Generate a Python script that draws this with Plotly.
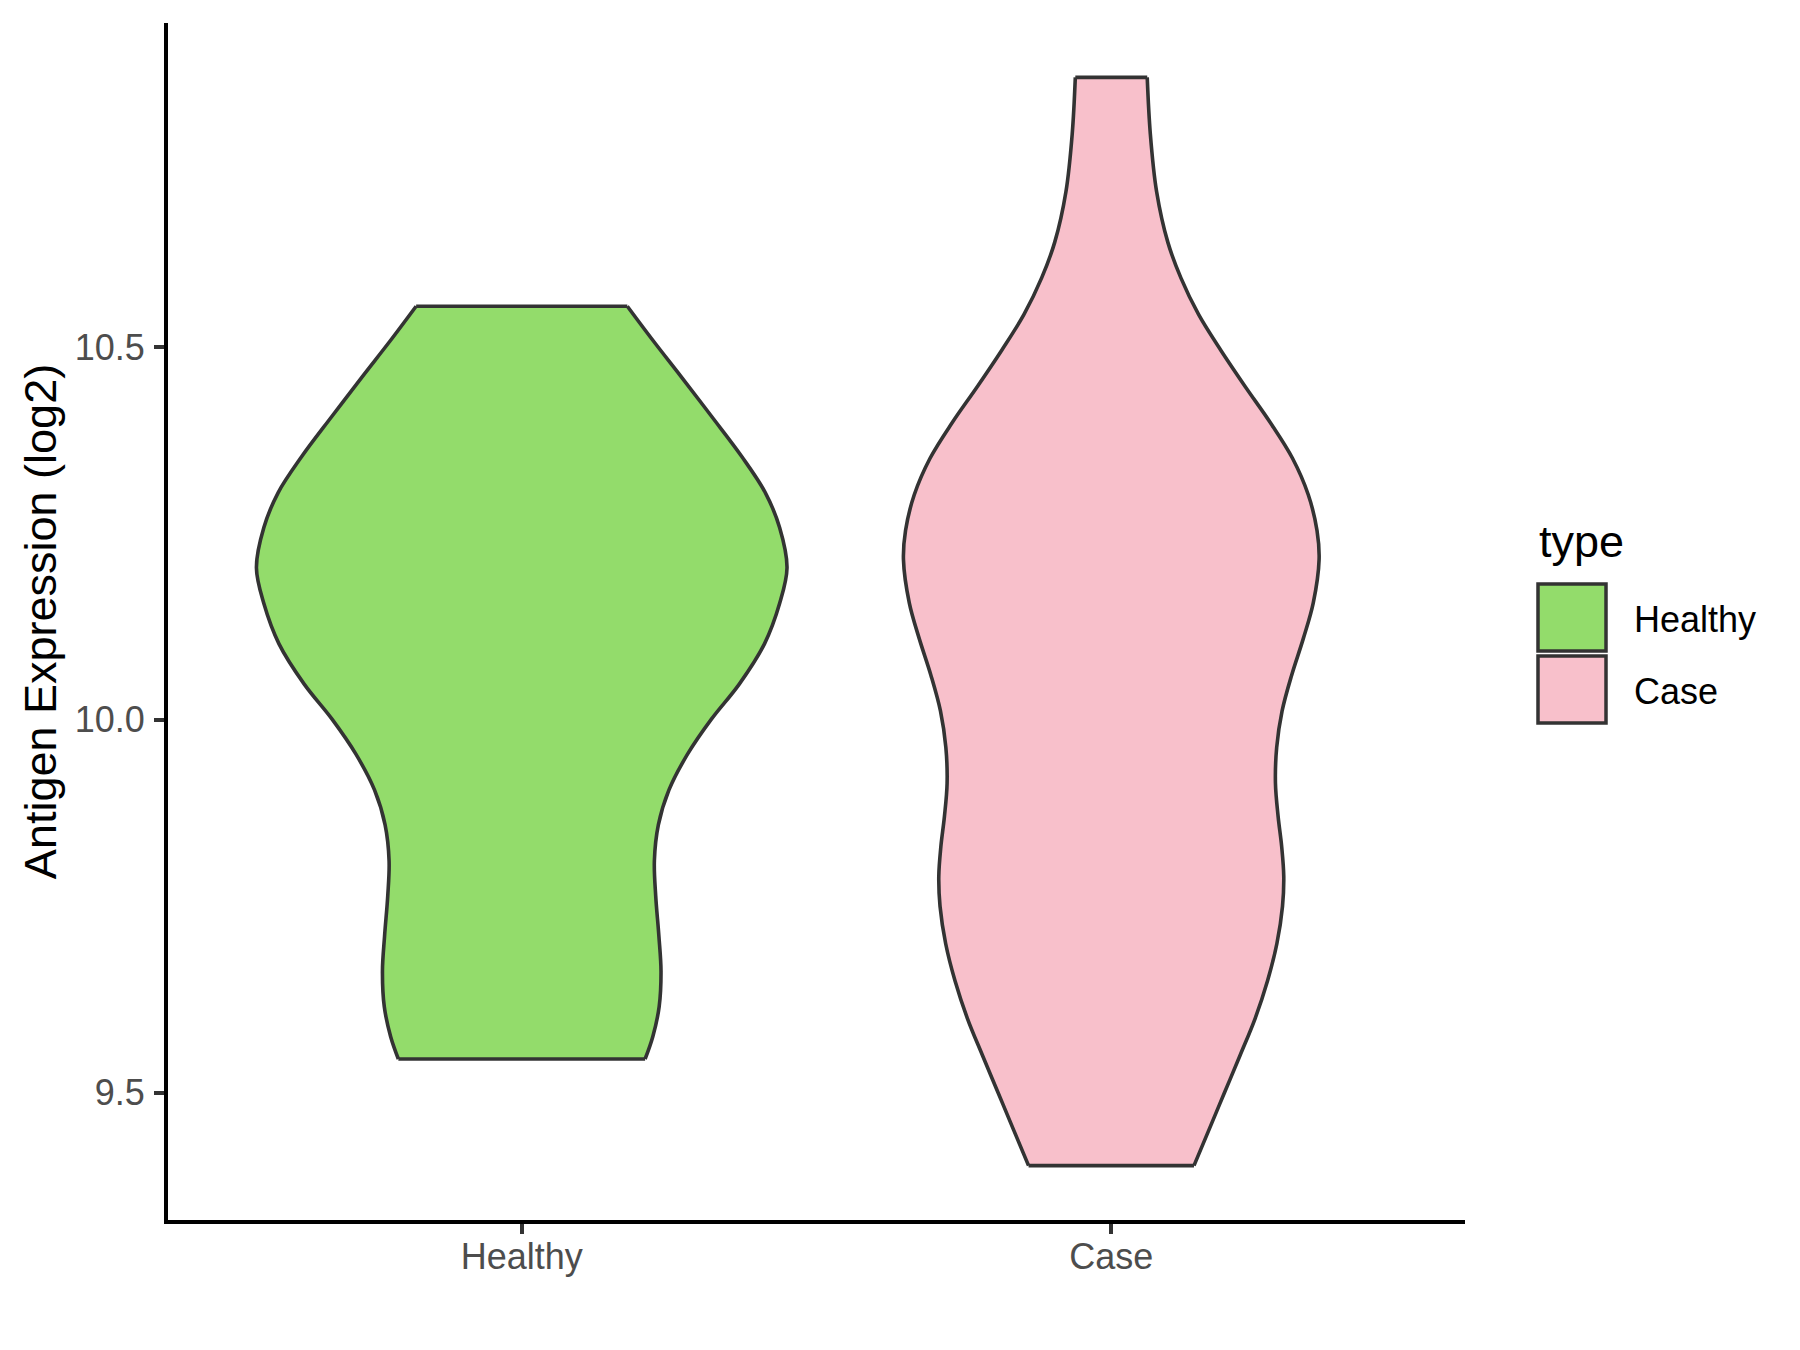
import plotly.graph_objects as go

categories = ["Healthy", "Case"]
fill_colors = ["#93DC6B", "#F8C0CB"]

# violin outlines: expression (log2) and relative width (1 = widest point)
healthy_expr = [9.545, 9.575, 9.615, 9.663, 9.710, 9.764, 9.811, 9.859, 9.906, 9.954, 10.001,
                10.048, 10.102, 10.156, 10.204, 10.258, 10.305, 10.353, 10.407, 10.461, 10.508, 10.555]
healthy_width = [0.465, 0.494, 0.518, 0.525, 0.517, 0.505, 0.500, 0.515, 0.555, 0.625, 0.715,
                 0.820, 0.915, 0.972, 1.000, 0.972, 0.918, 0.830, 0.716, 0.600, 0.497, 0.398]

case_expr = [9.402, 9.450, 9.500, 9.550, 9.600, 9.650, 9.700, 9.750, 9.790, 9.830, 9.870, 9.915,
             9.963, 10.012, 10.060, 10.109, 10.157, 10.215, 10.254, 10.302, 10.351, 10.399, 10.447,
             10.496, 10.544, 10.593, 10.641, 10.709, 10.786, 10.862]
case_width = [0.398, 0.470, 0.545, 0.620, 0.693, 0.752, 0.797, 0.824, 0.830, 0.820, 0.803, 0.790,
              0.796, 0.822, 0.868, 0.924, 0.972, 1.000, 0.990, 0.948, 0.872, 0.765, 0.645,
              0.527, 0.420, 0.335, 0.272, 0.218, 0.188, 0.173]

y_ticks = [9.5, 10.0, 10.5]

FONT = "Liberation Sans, Arial, sans-serif"
OUTLINE = "#333333"
MAX_HALF = [0.45, 0.3525]  # half width at the widest point (ggplot scale="area")
W, H = 1800, 1350
ML, MR, MT, MB = 160, 343, 15, 138


def px_x(px):
    return (px - ML) / (W - ML - MR)


def px_y(py):
    return (H - MB - py) / (H - MT - MB)


fig = go.Figure()

groups = [(healthy_expr, healthy_width), (case_expr, case_width)]
for i, (ys, ws) in enumerate(groups):
    center = i + 1
    left = [center - w * MAX_HALF[i] for w in ws]
    right = [center + w * MAX_HALF[i] for w in ws]
    line = dict(color=OUTLINE, width=3.6, shape="spline", simplify=False)
    fig.add_trace(go.Scatter(x=left, y=ys, mode="lines", line=line,
                             showlegend=False, hoverinfo="skip"))
    fig.add_trace(go.Scatter(x=right, y=ys, mode="lines", line=line,
                             fill="tonextx", fillcolor=fill_colors[i],
                             name=categories[i], showlegend=False,
                             hovertemplate=f"{categories[i]}<br>%{{y:.2f}}<extra></extra>"))
    # flat top and bottom of the trimmed violin
    fig.add_trace(go.Scatter(
        x=[left[0], right[0], None, left[-1], right[-1]],
        y=[ys[0], ys[0], None, ys[-1], ys[-1]],
        mode="lines", line=dict(color=OUTLINE, width=3.6),
        showlegend=False, hoverinfo="skip",
    ))

all_y = healthy_expr + case_expr
pad = 0.05 * (max(all_y) - min(all_y))
y_range = [min(all_y) - pad, max(all_y) + pad]

axis_common = dict(
    showline=True, linecolor="black", linewidth=4,
    ticks="outside", ticklen=10, tickwidth=4, tickcolor=OUTLINE,
    tickfont=dict(size=36, color="#4D4D4D", family=FONT),
    showgrid=False, zeroline=False,
)
fig.update_xaxes(range=[0.4, 2.6], tickvals=[1, 2], ticktext=categories,
                 ticklabelstandoff=-8, **axis_common)
fig.update_yaxes(range=y_range, tickvals=y_ticks, tickformat=".1f", ticklabelstandoff=2,
                 title=dict(text="Antigen Expression (log2)", font=dict(size=45, color="black", family=FONT),
                            standoff=5),
                 **axis_common)

# legend drawn like ggplot's: big outlined keys
shapes = []
annotations = [dict(text="type", x=px_x(1529), y=px_y(533), xref="paper", yref="paper",
                    xanchor="left", yanchor="middle", showarrow=False,
                    font=dict(size=45, color="black", family=FONT))]
key_top = [576, 648]
label_y = [611.6, 683.0]
for i, cat in enumerate(categories):
    shapes.append(dict(type="rect", xref="paper", yref="paper",
                       x0=px_x(1530), x1=px_x(1598), y0=px_y(key_top[i]), y1=px_y(key_top[i] + 67),
                       fillcolor=fill_colors[i], line=dict(color=OUTLINE, width=3.5)))
    annotations.append(dict(text=cat, x=px_x(1624), y=px_y(label_y[i]), xref="paper", yref="paper",
                            xanchor="left", yanchor="middle", showarrow=False,
                            font=dict(size=36, color="black", family=FONT)))

fig.update_layout(
    width=W, height=H,
    margin=dict(l=ML, r=MR, t=MT, b=MB),
    paper_bgcolor="white", plot_bgcolor="white",
    font=dict(family=FONT),
    shapes=shapes, annotations=annotations,
    showlegend=False,
)

fig.write_html("out.html")
